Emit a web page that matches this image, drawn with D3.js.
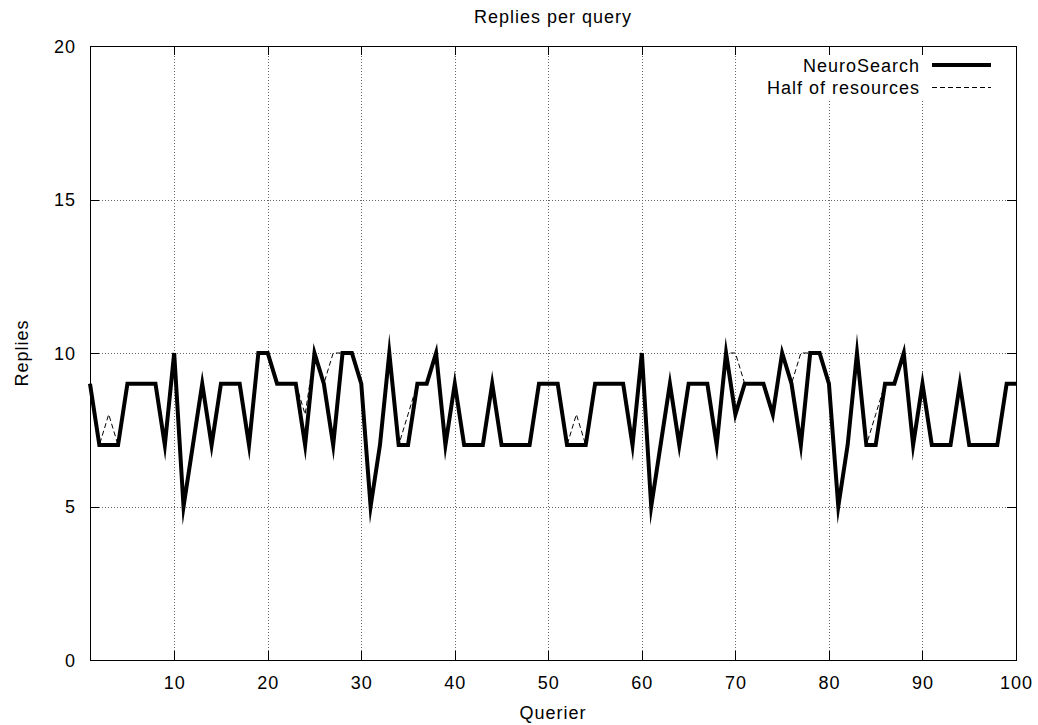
<!DOCTYPE html>
<html>
<head>
<meta charset="utf-8">
<script src="https://cdn.jsdelivr.net/npm/d3@7"></script>
<style>
  html, body { margin: 0; padding: 0; background: #fff; }
  svg text { font-family: "Liberation Sans", Arial, sans-serif; font-size: 18px; letter-spacing: 1px; fill: #000; }
</style>
</head>
<body>
<svg id="chart" width="1038" height="725"></svg>
<script>
// Replies received by each querier (1..100)
const queriers = d3.range(1, 101);
const neuroSearch = [
  9, 7, 7, 7, 9, 9, 9, 9, 7, 10,
  5, 7, 9, 7, 9, 9, 9, 7, 10, 10,
  9, 9, 9, 7, 10, 9, 7, 10, 10, 9,
  5, 7, 10, 7, 7, 9, 9, 10, 7, 9,
  7, 7, 7, 9, 7, 7, 7, 7, 9, 9,
  9, 7, 7, 7, 9, 9, 9, 9, 7, 10,
  5, 7, 9, 7, 9, 9, 9, 7, 10, 8,
  9, 9, 9, 8, 10, 9, 7, 10, 10, 9,
  5, 7, 10, 7, 7, 9, 9, 10, 7, 9,
  7, 7, 7, 9, 7, 7, 7, 7, 9, 9
];
const halfOfResources = [
  9, 7, 8, 7, 9, 9, 9, 9, 7, 10,
  5, 7, 9, 7, 9, 9, 9, 7, 10, 10,
  9, 9, 9, 8, 10, 9, 10, 10, 10, 9,
  5, 7, 10, 7, 8, 9, 9, 10, 7, 9,
  7, 7, 7, 9, 7, 7, 7, 7, 9, 9,
  9, 7, 8, 7, 9, 9, 9, 9, 7, 10,
  5, 7, 9, 7, 9, 9, 9, 7, 10, 10,
  9, 9, 9, 8, 10, 9, 10, 10, 10, 9,
  5, 7, 10, 7, 8, 9, 9, 10, 7, 9,
  7, 7, 7, 9, 7, 7, 7, 7, 9, 9
];
const xTicks = [10, 20, 30, 40, 50, 60, 70, 80, 90, 100];
const yTicks = [0, 5, 10, 15, 20];
const seriesNames = ["NeuroSearch", "Half of resources"];

const svg = d3.select("#chart");
const plotLeft = 90, plotRight = 1016, plotTop = 46, plotBottom = 660;

const x = d3.scaleLinear().domain([1, 100]).range([plotLeft, plotRight]);
const y = d3.scaleLinear().domain([0, 20]).range([plotBottom, plotTop]);

// grid
const grid = svg.append("g").attr("stroke", "#666").attr("stroke-width", 1)
  .attr("stroke-dasharray", "1,2").attr("shape-rendering", "crispEdges");
grid.selectAll("line.gx").data(xTicks.filter(d => d < 100)).join("line")
  .attr("x1", d => Math.round(x(d)) + 0.5).attr("x2", d => Math.round(x(d)) + 0.5)
  .attr("y1", plotBottom).attr("y2", plotTop);
grid.selectAll("line.gy").data(yTicks.filter(d => d > 0 && d < 20)).join("line")
  .attr("y1", d => Math.round(y(d)) + 0.5).attr("y2", d => Math.round(y(d)) + 0.5)
  .attr("x1", plotLeft).attr("x2", plotRight);

// key background hides the grid behind it
svg.append("rect").attr("x", 755).attr("y", plotTop + 1).attr("width", 245).attr("height", 53)
  .attr("fill", "#fff");

// axes with inward ticks on all four sides
const tickLen = 9;
const axB = d3.axisBottom(x).tickValues(xTicks).tickSize(-tickLen).tickPadding(tickLen + 7);
const axT = d3.axisTop(x).tickValues(xTicks).tickSize(-tickLen).tickFormat("");
const axL = d3.axisLeft(y).tickValues(yTicks).tickSize(-tickLen).tickPadding(tickLen + 5);
const axR = d3.axisRight(y).tickValues(yTicks).tickSize(-tickLen).tickFormat("");

function styleAxis(g) {
  g.select(".domain").remove();
  g.selectAll(".tick line").attr("stroke", "#000").attr("shape-rendering", "crispEdges");
  g.attr("font-family", null).attr("font-size", null);
}
svg.append("g").attr("transform", `translate(0,${plotBottom})`).call(axB).call(styleAxis)
  .selectAll(".tick text").attr("dy", "0.71em");
svg.append("g").attr("transform", `translate(0,${plotTop})`).call(axT).call(styleAxis);
svg.append("g").attr("transform", `translate(${plotLeft},0)`).call(axL).call(styleAxis)
  .selectAll(".tick text").attr("dy", "0.35em");
svg.append("g").attr("transform", `translate(${plotRight},0)`).call(axR).call(styleAxis);

// frame
svg.append("rect").attr("x", plotLeft + 0.5).attr("y", plotTop + 0.5)
  .attr("width", plotRight - plotLeft).attr("height", plotBottom - plotTop)
  .attr("fill", "none").attr("stroke", "#000").attr("stroke-width", 1)
  .attr("shape-rendering", "crispEdges");

// series
const line = d3.line().x((d, i) => x(queriers[i])).y(d => y(d));
svg.append("path").datum(neuroSearch).attr("d", line)
  .attr("fill", "none").attr("stroke", "#000").attr("stroke-width", 4)
  .attr("stroke-linejoin", "miter").attr("stroke-miterlimit", 10);
svg.append("path").datum(halfOfResources).attr("d", line)
  .attr("fill", "none").attr("stroke", "#000").attr("stroke-width", 1)
  .attr("stroke-dasharray", "5,3");

// key
const key = svg.append("g");
key.append("text").attr("x", 920).attr("y", 71.5).attr("text-anchor", "end").text(seriesNames[0]);
key.append("line").attr("x1", 932).attr("x2", 991).attr("y1", 65).attr("y2", 65)
  .attr("stroke", "#000").attr("stroke-width", 4);
key.append("text").attr("x", 920).attr("y", 93.5).attr("text-anchor", "end").text(seriesNames[1]);
key.append("line").attr("x1", 932).attr("x2", 991).attr("y1", 87.5).attr("y2", 87.5)
  .attr("stroke", "#000").attr("stroke-width", 1).attr("stroke-dasharray", "5,3");

// titles
svg.append("text").attr("x", 553).attr("y", 23).attr("text-anchor", "middle").text("Replies per query");
svg.append("text").attr("x", 553).attr("y", 719).attr("text-anchor", "middle").text("Querier");
svg.append("text").attr("transform", "translate(28,353) rotate(-90)")
  .attr("text-anchor", "middle").text("Replies");
</script>
</body>
</html>
